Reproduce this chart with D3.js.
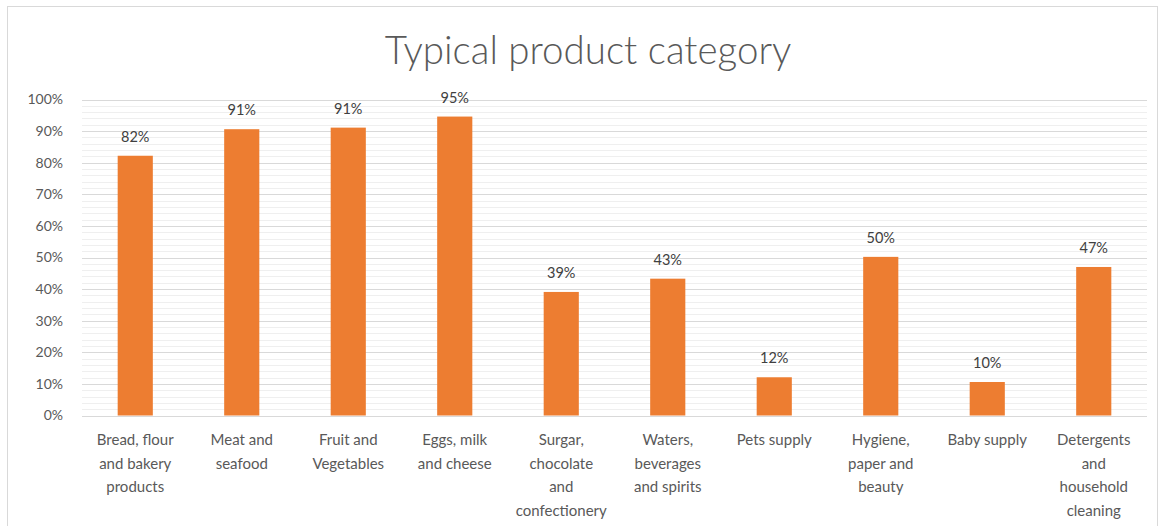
<!DOCTYPE html>
<html><head><meta charset="utf-8">
<script src="https://cdn.jsdelivr.net/npm/d3@7"></script>
<style>body{margin:0;background:#fff;} svg{display:block;}</style>
</head><body>
<svg id="c" width="1161" height="526"></svg>
<script>
const categories = [
  ["Bread, flour","and bakery","products"],
  ["Meat and","seafood"],
  ["Fruit and","Vegetables"],
  ["Eggs, milk","and cheese"],
  ["Surgar,","chocolate","and","confectionery"],
  ["Waters,","beverages","and spirits"],
  ["Pets supply"],
  ["Hygiene,","paper and","beauty"],
  ["Baby supply"],
  ["Detergents","and","household","cleaning"]
];
const values = [0.822, 0.906, 0.911, 0.946, 0.391, 0.433, 0.121, 0.502, 0.106, 0.47];
const valueLabels = ["82%","91%","91%","95%","39%","43%","12%","50%","10%","47%"];
const yTicks = [0,0.1,0.2,0.3,0.4,0.5,0.6,0.7,0.8,0.9,1.0];
const title = "Typical product category";

const svg = d3.select("#c");
const font = "Lato, 'Open Sans', sans-serif";
const L = 82, R = 1147, T = 99.5, B = 415.5;

svg.append("rect").attr("x",7.5).attr("y",6.5).attr("width",1150).attr("height",530)
  .attr("fill","#fff").attr("stroke","#d9d9d9");

const x = d3.scaleBand().domain(d3.range(categories.length)).range([L,R]).paddingInner(0.67).paddingOuter(0.335);
const y = d3.scaleLinear().domain([0,1]).range([B,T]);

// minor grid
const minor = d3.range(0,1.0001,0.02).filter(v => Math.round(v*100)%10 !== 0);
svg.append("g").selectAll("line").data(minor).join("line")
  .attr("x1",L).attr("x2",R).attr("y1",d=>Math.round(y(d))+0.5).attr("y2",d=>Math.round(y(d))+0.5)
  .attr("stroke","#efefef").attr("stroke-width",1);
// major grid
svg.append("g").selectAll("line").data(yTicks).join("line")
  .attr("x1",L).attr("x2",R).attr("y1",d=>Math.round(y(d))+0.5).attr("y2",d=>Math.round(y(d))+0.5)
  .attr("stroke","#d9d9d9").attr("stroke-width",1);

// y axis labels
const yAxis = d3.axisLeft(y).tickValues(yTicks).tickFormat(d3.format(".0%")).tickSize(0).tickPadding(19);
const ga = svg.append("g").attr("transform",`translate(${L},0)`).call(yAxis);
ga.select(".domain").remove();
ga.selectAll("text").attr("fill","#595959").style("font-family",font).style("font-size","14px");

// bars
svg.append("g").selectAll("rect").data(values).join("rect")
  .attr("x",(d,i)=>x(i)).attr("width",x.bandwidth())
  .attr("y",d=>y(d)).attr("height",d=>B-y(d)).attr("fill","#ED7D31");

// value labels
svg.append("g").selectAll("text").data(values).join("text")
  .attr("x",(d,i)=>x(i)+x.bandwidth()/2).attr("y",d=>y(d)-14)
  .attr("text-anchor","middle").attr("fill","#404040")
  .style("font-family",font).style("font-size","14.5px")
  .text((d,i)=>valueLabels[i]);

// category labels
const cg = svg.append("g").selectAll("text").data(categories).join("text")
  .attr("text-anchor","middle").attr("fill","#595959")
  .style("font-family",font).style("font-size","15px");
cg.each(function(lines,i){
  const t = d3.select(this);
  lines.forEach((ln,j)=>{
    t.append("tspan").attr("x",x(i)+x.bandwidth()/2).attr("y",445+j*23.5).text(ln);
  });
});

// title
svg.append("text").attr("x",588).attr("y",64).attr("text-anchor","middle")
  .attr("fill","#595959").style("font-family",font).style("font-weight","300")
  .style("font-size","38.5px").text(title);
</script>
</body></html>
